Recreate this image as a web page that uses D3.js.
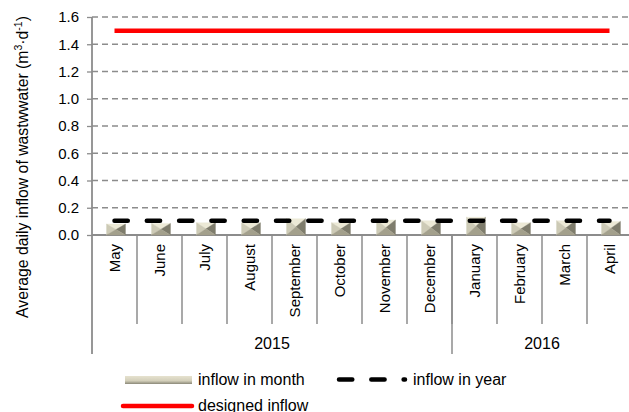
<!DOCTYPE html>
<html>
<head>
  <meta charset="utf-8">
  <title>Inflow of wastewater</title>
  <style>
    body { margin: 0; background: #fff; }
    svg text { font-family: "Liberation Sans", Arial, sans-serif; fill: #000; }
  </style>
  <script src="https://d3js.org/d3.v7.min.js"></script>
</head>
<body>
  <svg id="chart" width="629" height="412"></svg>
  <script>
    // data
    const months = ["May", "June", "July", "August", "September", "October", "November",
      "December", "January", "February", "March", "April"];
    const years = ["2015", "2016"];
    const monthsPerYear = [8, 4];
    const inflowMonth = [0.08, 0.085, 0.09, 0.09, 0.12, 0.09, 0.11, 0.105, 0.13, 0.09, 0.105, 0.10];
    const inflowYear = 0.105;
    const designedInflow = 1.5;
    const yTicks = [0, 0.2, 0.4, 0.6, 0.8, 1.0, 1.2, 1.4, 1.6];

    const svg = d3.select("#chart");
    const plotLeft = 92, plotRight = 632, plotTop = 17, plotBottom = 235;
    const axisGrey = "#8c8c8c";

    const x = d3.scaleBand().domain(months).range([plotLeft, plotRight]);
    const y = d3.scaleLinear().domain([0, 1.6]).range([plotBottom, plotTop]);

    // gridlines
    svg.append("g")
      .selectAll("line")
      .data(yTicks.filter(d => d > 0))
      .enter()
      .append("line")
      .attr("x1", plotLeft).attr("x2", plotRight)
      .attr("y1", d => y(d)).attr("y2", d => y(d))
      .attr("stroke", "#8c8c8c")
      .attr("stroke-width", 1.3)
      .attr("stroke-dasharray", "6,4");

    // y axis
    const yAxis = svg.append("g")
      .attr("transform", "translate(" + plotLeft + ",0)")
      .call(d3.axisLeft(y).tickValues(yTicks).tickFormat(d3.format(".1f")).tickSize(5).tickPadding(8));
    yAxis.select(".domain").remove();
    yAxis.selectAll(".tick line").attr("stroke", axisGrey).attr("stroke-width", 1.3);
    yAxis.selectAll(".tick text").style("font-size", "15px").attr("fill", "#000");

    // vertical axis line, running down through the category area
    svg.append("line")
      .attr("x1", plotLeft).attr("x2", plotLeft)
      .attr("y1", plotTop).attr("y2", 354)
      .attr("stroke", axisGrey).attr("stroke-width", 1.8);

    // horizontal axis
    svg.append("line")
      .attr("x1", plotLeft).attr("x2", plotRight)
      .attr("y1", y(0)).attr("y2", y(0))
      .attr("stroke", axisGrey).attr("stroke-width", 1.8);

    // month separators
    svg.append("g")
      .selectAll("line")
      .data(months.slice(1))
      .enter()
      .append("line")
      .attr("x1", d => x(d)).attr("x2", d => x(d))
      .attr("y1", y(0)).attr("y2", 324)
      .attr("stroke", axisGrey).attr("stroke-width", 1.5);

    // year separators and labels
    let start = 0;
    years.forEach(function (yr, i) {
      const x0 = x(months[start]);
      const x1 = x(months[start + monthsPerYear[i] - 1]) + x.bandwidth();
      svg.append("line")
        .attr("x1", x1).attr("x2", x1)
        .attr("y1", y(0)).attr("y2", 354)
        .attr("stroke", axisGrey).attr("stroke-width", 1.5);
      svg.append("text")
        .attr("x", (x0 + x1) / 2)
        .attr("y", 349)
        .attr("text-anchor", "middle")
        .style("font-size", "16px")
        .text(yr);
      start += monthsPerYear[i];
    });

    // month labels
    svg.append("g")
      .selectAll("text")
      .data(months)
      .enter()
      .append("text")
      .attr("transform", d => "translate(" + (x(d) + x.bandwidth() / 2 + 5.5) + ",244) rotate(-90)")
      .attr("text-anchor", "end")
      .style("font-size", "15px")
      .text(d => d);

    // bevelled bars
    const barW = x.bandwidth() * 0.42;
    const bars = svg.append("g")
      .selectAll("g")
      .data(months.map((m, i) => ({ month: m, value: inflowMonth[i] })))
      .enter()
      .append("g");

    function faces(d) {
      const cx = x(d.month) + x.bandwidth() / 2 + 1.5;
      const x0 = cx - barW / 2, x1 = cx + barW / 2;
      const y0 = y(d.value), y1 = y(0);
      const mx = cx, my = (y0 + y1) / 2;
      return [
        { pts: [[x0, y0], [x1, y0], [mx, my]], c: "#ece9d6" },
        { pts: [[x0, y0], [mx, my], [x0, y1]], c: "#cdcab6" },
        { pts: [[x1, y0], [x1, y1], [mx, my]], c: "#7e7c6c" },
        { pts: [[x0, y1], [mx, my], [x1, y1]], c: "#a3a08c" }
      ];
    }
    bars.selectAll("polygon")
      .data(faces)
      .enter()
      .append("polygon")
      .attr("points", f => f.pts.map(p => p.join(",")).join(" "))
      .attr("fill", f => f.c)
      .attr("stroke", f => f.c)
      .attr("stroke-width", 0.4);

    // lines
    const line = d3.line().x(d => x(d.month) + x.bandwidth() / 2).y(d => y(d.value));
    const firstLast = [months[0], months[months.length - 1]];

    svg.append("path")
      .attr("d", line(firstLast.map(m => ({ month: m, value: inflowYear }))))
      .attr("fill", "none")
      .attr("stroke", "#000")
      .attr("stroke-width", 4.5)
      .attr("stroke-linecap", "round")
      .attr("stroke-dasharray", "13.3,19");

    svg.append("path")
      .attr("d", line(firstLast.map(m => ({ month: m, value: designedInflow }))))
      .attr("fill", "none")
      .attr("stroke", "#ff0000")
      .attr("stroke-width", 4.5);

    // y axis title
    svg.append("text")
      .attr("transform", "translate(28,167) rotate(-90)")
      .attr("text-anchor", "middle")
      .style("font-size", "15.8px")
      .html('Average daily inflow of wastwwater (m<tspan baseline-shift="super" font-size="10.5px">3</tspan>·d<tspan baseline-shift="super" font-size="10.5px">-1</tspan>)');

    // legend
    const defs = svg.append("defs");
    const grad = defs.append("linearGradient").attr("id", "legBar").attr("x1", 0).attr("x2", 0).attr("y1", 0).attr("y2", 1);
    grad.append("stop").attr("offset", "0%").attr("stop-color", "#e6e2cf");
    grad.append("stop").attr("offset", "60%").attr("stop-color", "#d3cfba");
    grad.append("stop").attr("offset", "100%").attr("stop-color", "#8a8878");

    const legend = svg.append("g");
    legend.append("rect")
      .attr("x", 125).attr("y", 376).attr("width", 67).attr("height", 8)
      .attr("fill", "url(#legBar)");
    legend.append("text").attr("x", 198).attr("y", 385).style("font-size", "16px").text("inflow in month");

    legend.append("line")
      .attr("x1", 339).attr("x2", 405).attr("y1", 379.5).attr("y2", 379.5)
      .attr("stroke", "#000").attr("stroke-width", 4.5)
      .attr("stroke-linecap", "round")
      .attr("stroke-dasharray", "13.3,19");
    legend.append("text").attr("x", 413).attr("y", 385).style("font-size", "16px").text("inflow in year");

    legend.append("line")
      .attr("x1", 123).attr("x2", 192).attr("y1", 406).attr("y2", 406)
      .attr("stroke", "#ff0000").attr("stroke-width", 4.5)
      .attr("stroke-linecap", "round");
    legend.append("text").attr("x", 198).attr("y", 411).style("font-size", "16px").text("designed inflow");
  </script>
</body>
</html>
